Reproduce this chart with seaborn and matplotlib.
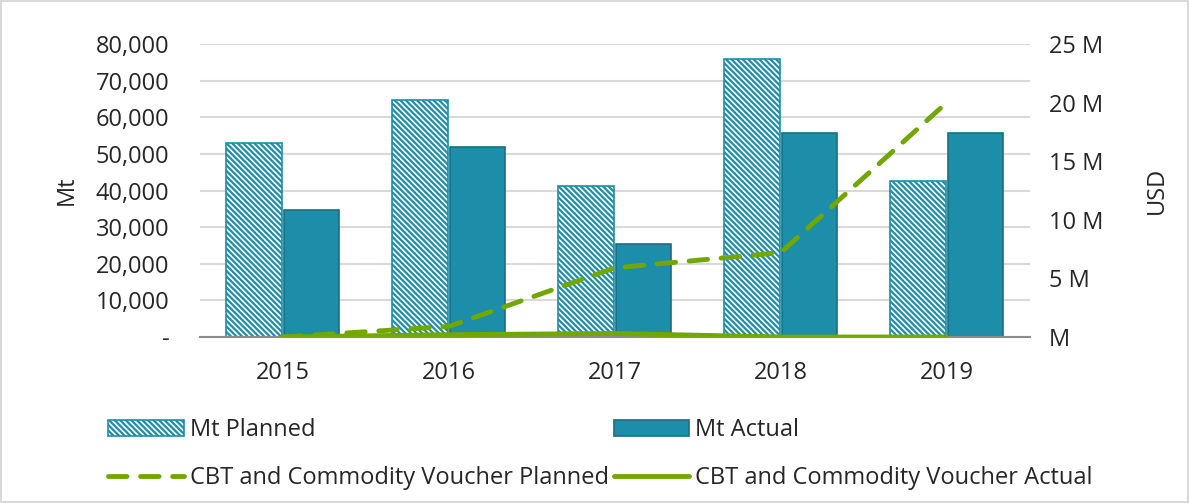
import matplotlib
matplotlib.use("Agg")
import matplotlib.pyplot as plt
import matplotlib.ticker as mticker
import seaborn as sns
import pandas as pd

years = ["2015", "2016", "2017", "2018", "2019"]
mt_planned = [53000, 64700, 41200, 75900, 42600]
mt_actual = [34600, 51900, 25300, 55600, 55600]
cbt_planned = [0, 900000, 5900000, 7200000, 20000000]
cbt_actual = [0, 200000, 300000, 0, 0]

teal = "#1c8ea9"
teal_edge = "#1a6f82"
green = "#72a600"
fs = 17

sns.set_theme(style="white")
plt.rcParams["font.family"] = ["Open Sans", "DejaVu Sans"]
plt.rcParams["hatch.linewidth"] = 1.6

bars = pd.DataFrame({
    "year": years * 2,
    "Mt": mt_planned + mt_actual,
    "series": ["Mt Planned"] * 5 + ["Mt Actual"] * 5,
})
lines = pd.DataFrame({
    "pos": list(range(len(years))),
    "planned": cbt_planned,
    "actual": cbt_actual,
})

fig = plt.figure(figsize=(11.89, 5.03), dpi=100)
fig.patch.set_edgecolor("#d9d9d9")
fig.patch.set_linewidth(1.5)
ax = fig.add_axes([0.168, 0.33, 0.698, 0.5825])

sns.barplot(data=bars, x="year", y="Mt", hue="series", order=years,
            hue_order=["Mt Planned", "Mt Actual"],
            palette={"Mt Planned": teal, "Mt Actual": teal}, saturation=1,
            width=0.69, gap=0.03, ax=ax, legend=False, linewidth=1.2,
            edgecolor=teal_edge)
for p in ax.patches[:5]:
    p.set_facecolor("white")
    p.set_edgecolor(teal)
    p.set_hatch("\\\\\\\\\\\\")
ax.set_xlim(-0.5, 4.5)
ax.set_ylim(0, 80000)
ax.yaxis.set_major_locator(mticker.MultipleLocator(10000))
ax.yaxis.set_major_formatter(mticker.FuncFormatter(lambda v, p: "-" if v == 0 else f"{v:,.0f}"))
ax.grid(axis="y", color="#d9d9d9", linewidth=1.5)
ax.set_axisbelow(True)
ax.set_xlabel("")
ax.set_ylabel("Mt", fontsize=fs, labelpad=12)
for s in ["top", "left", "right"]:
    ax.spines[s].set_visible(False)
ax.spines["bottom"].set_color("#8c8c8c")
ax.spines["bottom"].set_linewidth(1.5)
ax.set_xticks([-0.5, 0.5, 1.5, 2.5, 3.5, 4.5], minor=True)
ax.tick_params(axis="x", which="major", length=0, pad=17, labelsize=fs)
ax.tick_params(axis="x", which="minor", direction="inout", length=14, width=1.5, color="#8c8c8c")
ax.tick_params(axis="y", length=0, pad=22, labelsize=fs)

ax2 = ax.twinx()
sns.lineplot(data=lines, x="pos", y="planned", ax=ax2, color=green, linewidth=3.5,
             dash_capstyle="round", label="CBT and Commodity Voucher Planned", legend=False)
sns.lineplot(data=lines, x="pos", y="actual", ax=ax2, color=green, linewidth=3.5,
             solid_capstyle="round", label="CBT and Commodity Voucher Actual", legend=False)
ax2.lines[0].set_dashes([3.8, 2.8])
ax2.set_ylim(0, 25000000)
ax2.yaxis.set_major_locator(mticker.MultipleLocator(5000000))
ax2.yaxis.set_major_formatter(mticker.FuncFormatter(lambda v, p: "M" if v == 0 else f"{v/1e6:.0f} M"))
ax2.set_ylabel("USD", fontsize=fs, labelpad=30)
ax2.tick_params(axis="y", length=0, pad=14, labelsize=fs)
ax2.grid(False)
for s in ["top", "left", "right", "bottom"]:
    ax2.spines[s].set_visible(False)
ax2.set_xlim(-0.5, 4.5)

hp = plt.Rectangle((0, 0), 1, 1, facecolor="white", edgecolor=teal, hatch="\\\\\\\\\\\\", linewidth=1.2)
ha = plt.Rectangle((0, 0), 1, 1, facecolor=teal, edgecolor=teal_edge, linewidth=1.2)
lp, la = ax2.lines[0], ax2.lines[1]
fig.legend([hp, lp, ha, la],
           ["Mt Planned", "CBT and Commodity Voucher Planned", "Mt Actual", "CBT and Commodity Voucher Actual"],
           ncol=2, loc="center", bbox_to_anchor=(0.505, 0.097), frameon=False,
           fontsize=fs, handlelength=3.2, handletextpad=0.25, columnspacing=0.2,
           labelspacing=1.0)

fig.savefig("out.png", dpi=100)
